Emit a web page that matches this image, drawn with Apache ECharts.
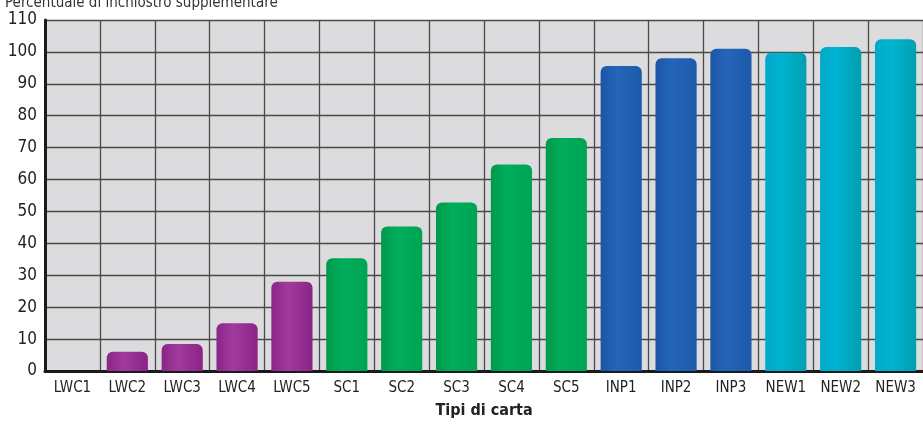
<!DOCTYPE html>
<html><head><meta charset="utf-8">
<script src="https://cdn.jsdelivr.net/npm/echarts@6/dist/echarts.min.js"></script>
<style>html,body{margin:0;padding:0;background:#fff}#c{width:923px;height:424px}</style>
</head><body><div id="c"></div>
<script>
const categories = ['LWC1','LWC2','LWC3','LWC4','LWC5','SC1','SC2','SC3','SC4','SC5','INP1','INP2','INP3','NEW1','NEW2','NEW3'];
const values = [0, 6, 8.5, 15, 28, 35.3, 45.3, 52.8, 64.7, 73, 95.6, 98, 101, 99.7, 101.5, 104];
const groups = ['LWC','LWC','LWC','LWC','LWC','SC','SC','SC','SC','SC','INP','INP','INP','NEW','NEW','NEW'];
const yTicks = [0,10,20,30,40,50,60,70,80,90,100,110];
const titleText = 'Percentuale di inchiostro supplementare';
const xName = 'Tipi di carta';

const palette = {
  LWC: ['#8a2487', '#a03a9d', '#8a2487'],
  SC:  ['#00994a', '#00ad5c', '#00a354'],
  INP: ['#1c56a6', '#2465b8', '#1c5aab'],
  NEW: ['#00a9c9', '#00b3d0', '#009fb0']
};
function grad(g){
  const c = palette[g];
  return new echarts.graphic.LinearGradient(0,0,1,0,[
    {offset:0,color:c[0]},{offset:0.4,color:c[1]},{offset:1,color:c[2]}]);
}
const font = '"DejaVu Sans Condensed","Liberation Sans Narrow","Arial Narrow",sans-serif';
const chart = echarts.init(document.getElementById('c'));
chart.setOption({
  animation:false,
  backgroundColor:'#fff',
  title:{text:titleText,left:0,top:-9,textStyle:{fontFamily:font,fontSize:15,fontWeight:'normal',color:'#333'}},
  grid:{left:45,right:-2,top:20,bottom:51,show:true,backgroundColor:'#dcdcde',borderWidth:0},
  xAxis:{type:'category',data:categories,
    axisLine:{lineStyle:{color:'#1a1a1a',width:3}},
    axisTick:{show:false},
    axisLabel:{fontFamily:font,fontSize:15,color:'#222',margin:10,interval:0},
    splitLine:{show:true,interval:0,lineStyle:{color:'#4a4a4a',width:1.3}},
    name:xName,nameLocation:'middle',nameGap:32,
    nameTextStyle:{fontFamily:font,fontSize:16,fontWeight:'bold',color:'#222'}
  },
  yAxis:{type:'value',min:0,max:110,interval:10,
    axisLine:{show:true,lineStyle:{color:'#1a1a1a',width:3}},
    axisTick:{show:false},
    axisLabel:{fontFamily:font,fontSize:17,color:'#222',margin:8,
      formatter:v=>yTicks.includes(v)?String(v):''},
    splitLine:{lineStyle:{color:'#4a4a4a',width:1.3}}
  },
  series:[{type:'bar',barWidth:'75%',
    data:values.map((v,i)=>({value:v,itemStyle:{color:grad(groups[i]),borderRadius:[6,6,0,0]}}))
  }]
});
</script></body></html>
